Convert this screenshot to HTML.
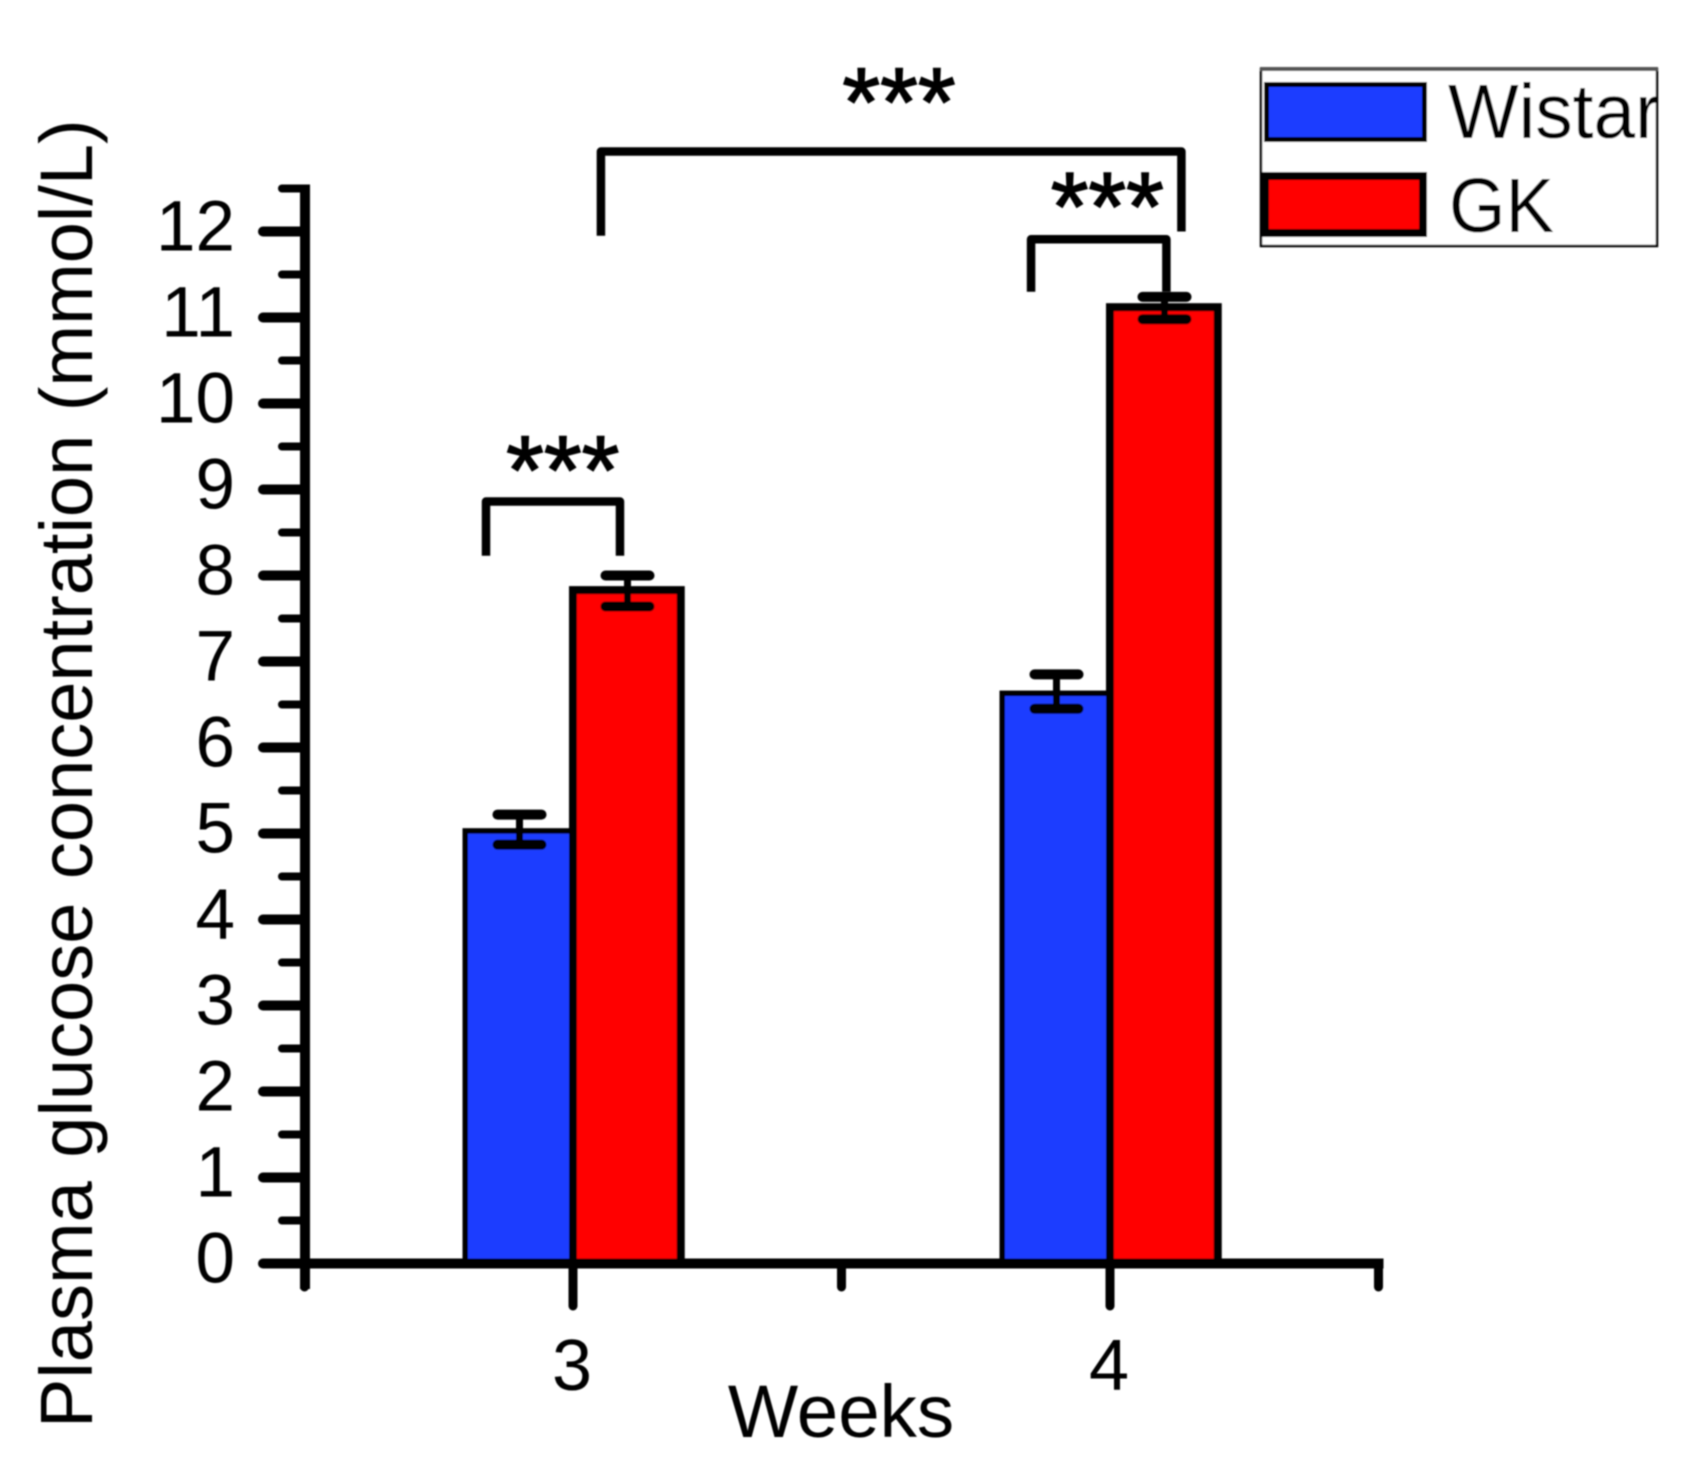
<!DOCTYPE html>
<html lang="en">
<head>
<meta charset="utf-8">
<title>Plasma glucose concentration by week</title>
<style>
html,body{margin:0;padding:0;background:#fff;width:1684px;height:1482px;overflow:hidden}
svg{display:block}
text{font-family:"Liberation Sans",Arial,sans-serif;fill:#000}
</style>
</head>
<body>
<svg id="chart" xmlns="http://www.w3.org/2000/svg" width="1684" height="1482" viewBox="0 0 1684 1482">
  <defs>
    <filter id="soft" x="-5%" y="-5%" width="110%" height="110%"><feGaussianBlur stdDeviation="0.7"/></filter>
    <clipPath id="legend-clip"><rect x="1260" y="68" width="398" height="179"/></clipPath>
  </defs>
  <rect width="1684" height="1482" fill="#fff"/>
  <g id="root" filter="url(#soft)">
    <g id="bars"></g>
    <g id="errors"></g>
    <g id="axes"></g>
    <g id="annotations"></g>
    <text transform="translate(92 1428) rotate(-90)" font-size="74" word-spacing="3">Plasma glucose concentration (mmol/L)</text>
    <text x="841" y="1437" font-size="74.5" text-anchor="middle">Weeks</text>
    <g>
      <rect x="1261" y="69" width="396" height="177" fill="#fff" stroke="#000" stroke-width="2.5"/>
      <rect x="1260" y="67" width="398" height="4" fill="#555"/>
      <rect x="1266.5" y="84.5" width="158" height="55" fill="#1f3dff" stroke="#000" stroke-width="5"/>
      <text x="1448" y="138" font-size="77" textLength="212" lengthAdjust="spacingAndGlyphs" clip-path="url(#legend-clip)">Wistar</text>
      <rect x="1265" y="176" width="158" height="57" fill="#f00" stroke="#000" stroke-width="8"/>
      <text x="1449" y="232" font-size="77" textLength="105" lengthAdjust="spacingAndGlyphs">GK</text>
    </g>
  </g>
</svg>
<script>
const categories = [3, 4];
const wistarValues = [5.03, 6.63];
const gkValues = [7.83, 11.12];
const wistarErrorHigh = [5.22, 6.85];
const wistarErrorLow = [4.87, 6.45];
const gkErrorHigh = [8.0, 11.24];
const gkErrorLow = [7.64, 10.98];
const yMajorTicks = [0, 1, 2, 3, 4, 5, 6, 7, 8, 9, 10, 11, 12];
const yMinorTicks = [0.5, 1.5, 2.5, 3.5, 4.5, 5.5, 6.5, 7.5, 8.5, 9.5, 10.5, 11.5, 12.5];
const xMajorTicks = [3, 4];
const xMinorTicks = [2.5, 3.5, 4.5];
const bracketLeftWeek = [2.838, 3.052, 3.853];
const bracketRightWeek = [3.0875, 4.133, 4.105];
const bracketTopValue = [8.86, 12.93, 11.91];
const bracketLeftEndValue = [8.23, 11.95, 11.3];
const bracketRightEndValue = [8.23, 12.0, 11.3];
const starWeek = [2.981, 3.607, 3.995];
const starValue = [9.42, 13.7, 12.48];
const starLabels = ['***', '***', '***'];

const SVGNS = 'http://www.w3.org/2000/svg';
const xScale = w => 573 + (w - 3) * 537;
const yScale = v => 1263.5 - v * 86;
const BAR_W = 107.75;

function make(tag, parent, props) {
  const el = document.createElementNS(SVGNS, tag);
  for (const k in props) el.setAttribute(k, props[k]);
  parent.appendChild(el);
  return el;
}
const barsG = document.getElementById('bars');
const errG = document.getElementById('errors');
const axesG = document.getElementById('axes');
const annG = document.getElementById('annotations');

function drawBar(cx0, value, fill, sw, name) {
  const top = yScale(value);
  const r = make('rect', barsG, {x: cx0, y: top, width: BAR_W, height: yScale(0) - top, fill: fill, stroke: '#000', 'stroke-width': sw});
  
  
}
function drawError(cx, hi, lo, name) {
  const g = make('g', errG, {stroke: '#000', 'stroke-linecap': 'round', fill: 'none'});
  
  
  make('line', g, {x1: cx, x2: cx, y1: yScale(hi), y2: yScale(lo), 'stroke-width': 7, 'stroke-linecap': 'butt'});
  make('line', g, {x1: cx - 22, x2: cx + 22, y1: yScale(hi), y2: yScale(hi), 'stroke-width': 10});
  make('line', g, {x1: cx - 22, x2: cx + 22, y1: yScale(lo), y2: yScale(lo), 'stroke-width': 10});
}
categories.forEach((c, i) => {
  const center = xScale(c);
  drawBar(center - BAR_W, wistarValues[i], '#1f3dff', 5.5, 'bar-wistar-week-' + c);
});
categories.forEach((c, i) => {
  const center = xScale(c);
  drawBar(center, gkValues[i], '#ff0000', 8, 'bar-gk-week-' + c);
  drawError(center - 53.5, wistarErrorHigh[i], wistarErrorLow[i], 'error-wistar-week-' + c);
  drawError(center + 54.5, gkErrorHigh[i], gkErrorLow[i], 'error-gk-week-' + c);
});

/* axes */
const yAxisLine = make('line', axesG, {x1: 305, x2: 305, y1: yScale(12.5) - 4, y2: 1289, stroke: '#000', 'stroke-width': 10});


const xAxisLine = make('line', axesG, {x1: 263, x2: xScale(4.5) + 5, y1: yScale(0), y2: yScale(0), stroke: '#000', 'stroke-width': 10});



yMajorTicks.forEach(v => {
  const y = yScale(v);
  const t = make('line', axesG, {x1: 263, x2: 305, y1: y, y2: y, stroke: '#000', 'stroke-width': 10, 'stroke-linecap': 'round'});
  
  
  const l = make('text', axesG, {x: 235, y: y + 19, 'font-size': 71, 'text-anchor': 'end'});
  l.textContent = String(v);
  
  
});
yMinorTicks.forEach(v => {
  const y = yScale(v);
  const t = make('line', axesG, {x1: 282, x2: 305, y1: y, y2: y, stroke: '#000', 'stroke-width': 8, 'stroke-linecap': 'round'});
  
  
});
xMajorTicks.forEach(w => {
  const x = xScale(w);
  const t = make('line', axesG, {x1: x, x2: x, y1: yScale(0), y2: 1306, stroke: '#000', 'stroke-width': 9, 'stroke-linecap': 'round'});
  
  
  const l = make('text', axesG, {x: x - 1, y: 1390, 'font-size': 72, 'text-anchor': 'middle'});
  l.textContent = String(w);
  
  
});
xMinorTicks.forEach(w => {
  const x = xScale(w);
  const t = make('line', axesG, {x1: x, x2: x, y1: yScale(0), y2: 1287, stroke: '#000', 'stroke-width': 9, 'stroke-linecap': 'round'});
  
  
});

/* significance brackets */
bracketLeftWeek.forEach((_, i) => {
  const xl = xScale(bracketLeftWeek[i]);
  const xr = xScale(bracketRightWeek[i]);
  const yt = yScale(bracketTopValue[i]);
  const p = make('path', annG, {
    d: 'M' + xl + ' ' + yScale(bracketLeftEndValue[i]) + 'V' + yt + 'H' + xr + 'V' + yScale(bracketRightEndValue[i]),
    fill: 'none', stroke: '#000', 'stroke-width': 8.5, 'stroke-linejoin': 'round'
  });
  
  
  const s = make('text', annG, {x: xScale(starWeek[i]), y: yScale(starValue[i]) + 50, 'font-size': 97, 'text-anchor': 'middle', stroke: '#000', 'stroke-width': 1.5});
  s.textContent = starLabels[i];
  
  
});
</script>
</body>
</html>
